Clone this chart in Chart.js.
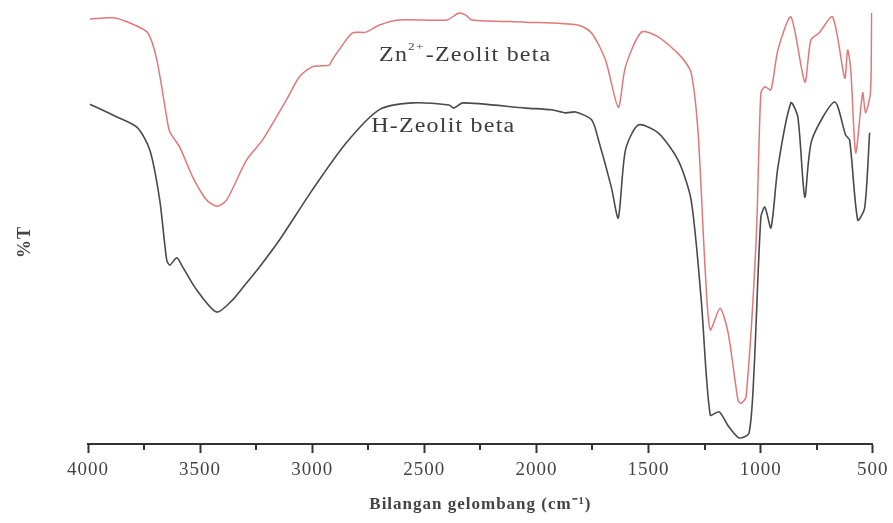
<!DOCTYPE html>
<html>
<head>
<meta charset="utf-8">
<script src="https://cdn.jsdelivr.net/npm/chart.js@4.4.1/dist/chart.umd.min.js"></script>
<style>
  html, body { margin: 0; padding: 0; background: #fff; }
  #wrap { width: 893px; height: 523px; }
</style>
</head>
<body>
<div id="wrap"><canvas id="ftir"></canvas></div>
<script>
// FTIR spectra, wavenumber (cm-1) vs transmittance (arbitrary %T units)
const znWavenumber = [3991, 3889, 3813, 3733, 3693, 3649, 3635, 3591, 3533, 3471, 3426, 3382, 3293, 3222, 3115, 3057, 3000, 2968, 2924, 2911, 2880, 2822, 2760, 2702, 2613, 2399, 2346, 2315, 2288, 2048, 1812, 1754, 1692, 1635, 1603, 1532, 1457, 1354, 1310, 1279, 1248, 1225, 1181, 1145, 1101, 1088, 1065, 1020, 999, 981, 954, 923, 865, 803, 776, 740, 679, 625, 612, 598, 576, 545, 532, 510, 505];
const znTransmittance = [97.9, 98.2, 97.0, 94.7, 88.5, 75.3, 71.9, 68.4, 61.5, 56.2, 54.8, 56.2, 65.4, 70.0, 79.3, 84.6, 86.9, 87.1, 87.3, 88.5, 90.8, 94.7, 94.9, 96.5, 97.7, 97.7, 99.3, 98.8, 97.7, 97.2, 96.5, 94.7, 88.5, 77.6, 86.9, 94.9, 93.8, 89.2, 85.5, 71.7, 40.8, 26.3, 31.3, 25.6, 10.1, 9.4, 10.8, 47.0, 80.9, 82.3, 81.6, 90.8, 98.4, 83.4, 93.1, 94.7, 98.4, 84.3, 90.8, 86.2, 67.1, 80.9, 76.3, 81.1, 99.3];

const hWavenumber = [3991, 3889, 3782, 3724, 3680, 3649, 3635, 3604, 3578, 3515, 3426, 3355, 3293, 3235, 3146, 3000, 2848, 2702, 2555, 2390, 2368, 2328, 2048, 1932, 1870, 1826, 1754, 1723, 1666, 1635, 1603, 1546, 1457, 1368, 1310, 1265, 1225, 1185, 1141, 1096, 1052, 1030, 999, 981, 954, 923, 865, 834, 803, 772, 670, 621, 603, 567, 536, 514];
const hTransmittance = [78.3, 75.8, 73.0, 67.7, 56.2, 42.4, 41.2, 42.9, 40.8, 35.5, 30.4, 33.2, 37.1, 40.8, 47.0, 58.5, 69.4, 77.0, 78.6, 78.1, 77.4, 78.6, 77.4, 77.0, 76.3, 76.5, 74.7, 70.0, 59.2, 52.1, 67.7, 73.5, 71.7, 65.4, 56.2, 33.2, 6.7, 7.4, 3.9, 1.4, 2.5, 16.4, 52.3, 54.6, 49.8, 63.8, 78.6, 75.3, 56.9, 70.0, 78.8, 71.2, 70.0, 51.6, 54.4, 71.7];

const xTicksMajor = [4000, 3500, 3000, 2500, 2000, 1500, 1000, 500];

const toPoints = (xs, ys) => xs.map((x, i) => ({ x: x, y: ys[i] }));

const serif = '"Liberation Serif", "Times New Roman", serif';

// series names next to the curves, the %T axis name and the short minor ticks
const extras = {
  id: 'extras',
  beforeDraw(chart) {
    chart.ctx.letterSpacing = '1px';
  },
  afterDraw(chart) {
    const { ctx, scales: { x, y } } = chart;
    ctx.save();
    ctx.letterSpacing = '1px';
    ctx.fillStyle = '#3c3c3c';
    ctx.textBaseline = 'middle';

    const drawStretched = (parts, px, py) => {
      ctx.save();
      ctx.translate(px, py);
      ctx.scale(1.2, 1);
      let cx = 0;
      parts.forEach(p => {
        ctx.font = p.size + 'px ' + serif;
        ctx.fillText(p.text, cx, p.dy || 0);
        cx += ctx.measureText(p.text).width + (p.gap || 0);
      });
      ctx.restore();
    };

    drawStretched([
      { text: 'Zn', size: 20 },
      { text: '2+', size: 11, dy: -9, gap: 1 },
      { text: '-Zeolit beta', size: 20 },
    ], x.getPixelForValue(2702), y.getPixelForValue(89.4));

    drawStretched([
      { text: 'H-Zeolit beta', size: 20 },
    ], x.getPixelForValue(2737), y.getPixelForValue(73.2));

    // %T, rotated
    ctx.save();
    ctx.translate(25, 242);
    ctx.rotate(-Math.PI / 2);
    ctx.textAlign = 'center';
    ctx.font = 'bold 18px ' + serif;
    ctx.fillStyle = '#444';
    ctx.fillText('%T', 0, 0);
    ctx.restore();

    // minor ticks between the labelled ones
    ctx.strokeStyle = '#333';
    ctx.lineWidth = 2;
    x.ticks.forEach(t => {
      if (t.value % 500 !== 0) {
        const tx = Math.round(x.getPixelForValue(t.value));
        ctx.beginPath();
        ctx.moveTo(tx, x.top);
        ctx.lineTo(tx, x.top + 6);
        ctx.stroke();
      }
    });
    ctx.restore();
  }
};

new Chart(document.getElementById('ftir'), {
  type: 'line',
  data: {
    datasets: [
      {
        label: 'Zn2+-Zeolit beta',
        data: toPoints(znWavenumber, znTransmittance),
        borderColor: '#e27777',
        borderWidth: 1.5,
        pointRadius: 0,
        tension: 0.25,
        fill: false,
      },
      {
        label: 'H-Zeolit beta',
        data: toPoints(hWavenumber, hTransmittance),
        borderColor: '#4a4a4a',
        borderWidth: 1.6,
        pointRadius: 0,
        tension: 0.25,
        fill: false,
      },
    ],
  },
  options: {
    responsive: true,
    maintainAspectRatio: false,
    animation: false,
    layout: { padding: { top: 10, right: 18, bottom: 0, left: 0 } },
    plugins: {
      legend: { display: false },
      tooltip: { enabled: false },
    },
    scales: {
      x: {
        type: 'linear',
        reverse: true,
        min: 500,
        max: 4000,
        afterFit: (s) => { s.height = 79; },
        border: { display: true, color: '#333', width: 2 },
        grid: {
          drawOnChartArea: false,
          drawTicks: true,
          tickLength: 9,
          tickWidth: 2,
          tickColor: (c) => (c.tick && c.tick.value % 500 === 0 ? '#333' : 'rgba(0,0,0,0)'),
        },
        ticks: {
          stepSize: 250,
          padding: 6,
          maxRotation: 0,
          autoSkip: false,
          color: '#444',
          font: { family: serif, size: 19 },
          callback: (v) => (xTicksMajor.includes(v) ? String(v) : ''),
        },
        title: {
          display: true,
          text: 'Bilangan gelombang (cm⁻¹)',
          color: '#444',
          font: { family: serif, size: 17, weight: 'bold' },
          padding: { top: 4, bottom: 8 },
        },
      },
      y: {
        min: 0,
        max: 100,
        afterFit: (s) => { s.width = 88; },
        border: { display: false },
        grid: { display: false },
        ticks: { display: false },
        title: { display: false },
      },
    },
  },
  plugins: [extras],
});
</script>
</body>
</html>
